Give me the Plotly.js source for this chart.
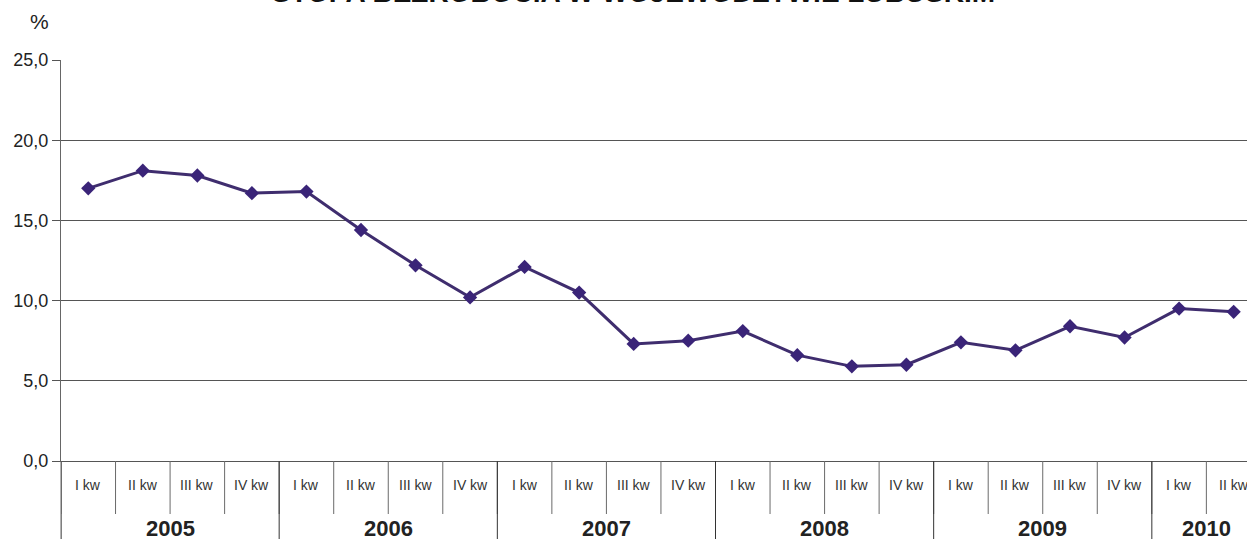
<!DOCTYPE html>
<html>
<head>
<meta charset="utf-8">
<script src="https://cdn.plot.ly/plotly-3.0.1.min.js"></script>
<style>html,body{margin:0;padding:0;background:#fff;}#chart{width:1247px;height:539px;}</style>
</head>
<body>
<div id="chart"></div>
<script>
const chartTitle = 'STOPA BEZROBOCIA W WOJEWÓDZTWIE LUBUSKIM';
const years = ['2005', '2006', '2007', '2008', '2009', '2010'];
const quartersInYear = [4, 4, 4, 4, 4, 2];
const quarterNames = ['I kw', 'II kw', 'III kw', 'IV kw'];
const rates = [17.0, 18.1, 17.8, 16.7, 16.8, 14.4, 12.2, 10.2, 12.1, 10.5, 7.3, 7.5,
               8.1, 6.6, 5.9, 6.0, 7.4, 6.9, 8.4, 7.7, 9.5, 9.3];
const yTicks = [0, 5, 10, 15, 20, 25];

// build categories
const cats = [], qLabels = [], yearSpans = [];
let idx = 0;
years.forEach((y, i) => {
  const start = idx;
  for (let q = 0; q < quartersInYear[i]; q++) {
    cats.push(y + ' ' + quarterNames[q]);
    qLabels.push(quarterNames[q]);
    idx++;
  }
  yearSpans.push({year: y, start: start, end: idx - 1});
});

const FONT = 'Liberation Sans, Arial, sans-serif';
const plotH = 539 - 60 - 78;
const bottomY = -78 / plotH;

const shapes = [];
const annotations = [];
// quarter separators
for (let i = 0; i <= cats.length; i++) {
  shapes.push({type: 'line', xref: 'x', yref: 'paper', x0: i - 0.5, x1: i - 0.5,
    y0: 0, y1: -53 / plotH, line: {color: '#6a6a6a', width: 1}, layer: 'above'});
}
// year dividers
yearSpans.forEach(s => {
  shapes.push({type: 'line', xref: 'x', yref: 'paper', x0: s.start - 0.5, x1: s.start - 0.5,
    y0: 0, y1: bottomY, line: {color: '#333', width: 1}, layer: 'above'});
  annotations.push({xref: 'x', yref: 'paper', x: (s.start + s.end) / 2, y: -67 / plotH,
    text: '<b>' + s.year + '</b>', showarrow: false, yanchor: 'middle',
    font: {family: FONT, size: 22, color: '#222'}});
});
qLabels.forEach((q, i) => {
  annotations.push({xref: 'x', yref: 'paper', x: i, y: -24 / plotH, text: q, showarrow: false,
    yanchor: 'middle', font: {family: FONT, size: 14, color: '#333'}});
});
annotations.push({xref: 'paper', yref: 'paper', x: -22 / 1186, y: 1 + 38 / plotH, text: '%',
  showarrow: false, xanchor: 'center', yanchor: 'middle',
  font: {family: FONT, size: 21, color: '#222'}});

const trace = {
  type: 'scatter', mode: 'lines+markers', x: cats, y: rates,
  line: {color: '#3f2d6e', width: 3},
  marker: {symbol: 'diamond', size: 11, color: '#3a2478'},
  hoverinfo: 'x+y'
};

const layout = {
  width: 1247, height: 539,
  margin: {l: 61, r: 0, t: 60, b: 78},
  paper_bgcolor: '#fff', plot_bgcolor: '#fff',
  separators: ', ',
  showlegend: false,
  title: {text: '<b>' + chartTitle + '</b>', x: 0.508, xanchor: 'center', y: 0.996, yanchor: 'bottom',
    font: {family: FONT, size: 28, color: '#111'}},
  xaxis: {type: 'category', categoryarray: cats, range: [-0.5, 21.245], showticklabels: false,
    ticks: '', showgrid: false, zeroline: false, showline: true, linecolor: '#555', linewidth: 1,
    fixedrange: true},
  yaxis: {range: [0, 25], tickvals: yTicks, tickformat: '.1f', showgrid: true, gridcolor: '#555',
    gridwidth: 1, zeroline: false, showline: true, linecolor: '#666', linewidth: 1,
    ticks: 'outside', ticklen: 8, tickcolor: '#555',
    tickfont: {family: FONT, size: 18, color: '#222'}},
  shapes: shapes,
  annotations: annotations
};
// left axis extension down to the bottom
shapes.push({type: 'line', xref: 'paper', yref: 'paper', x0: 0, x1: 0, y0: 0, y1: bottomY,
  line: {color: '#666', width: 1}, layer: 'above'});

Plotly.newPlot('chart', [trace], layout, {displayModeBar: false, staticPlot: true});
</script>
</body>
</html>
